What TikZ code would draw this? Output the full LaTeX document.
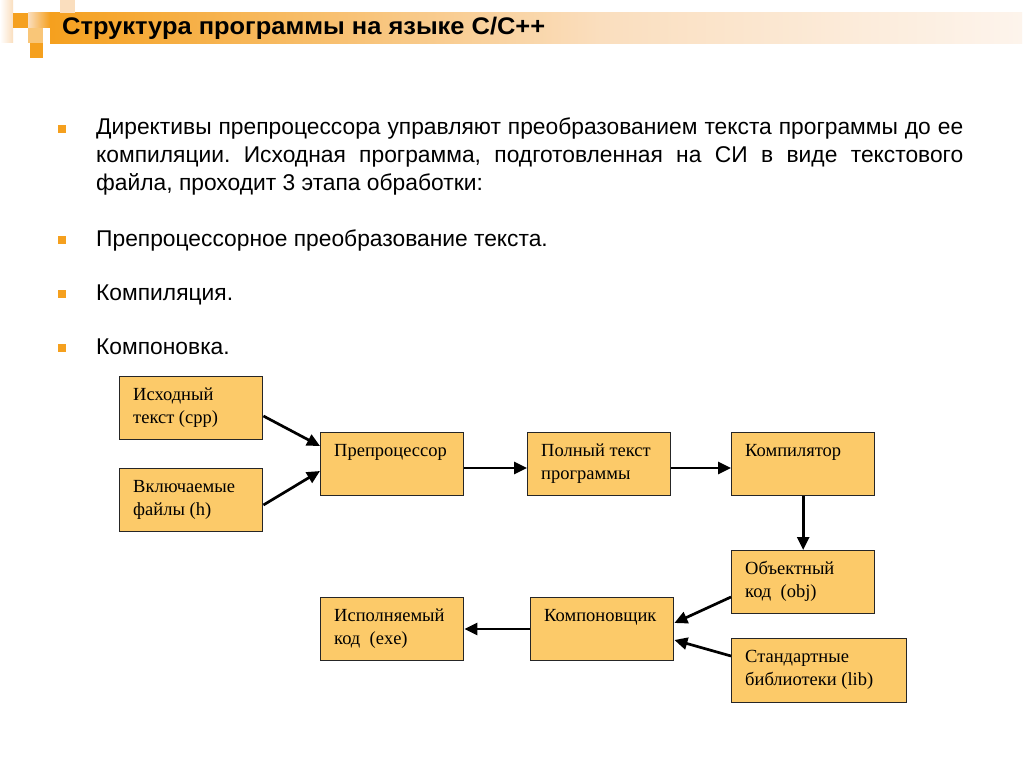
\documentclass[tikz,border=0pt]{standalone}
\usepackage{fontspec}
\setmainfont{Liberation Serif}
\newfontfamily\arialf{Liberation Sans}
\newfontfamily\titlef[FakeStretch=1.06]{Liberation Sans}
\usetikzlibrary{arrows.meta,calc}
\frenchspacing
\definecolor{orng}{RGB}{245,160,30}
\definecolor{peach}{RGB}{250,222,190}
\definecolor{lpeach}{RGB}{253,244,236}
\definecolor{boxfill}{RGB}{252,202,105}
\tikzset{
  box/.style={draw=black!85, fill=boxfill, line width=1.4pt, anchor=north west, inner sep=0pt},
  boxtxt/.style={anchor=base west, inner sep=0pt, font=\fontsize{18.5}{23.5}\selectfont},
  btxt/.style={anchor=base west, inner sep=0pt, font=\arialf\fontsize{22.8}{28}\selectfont},
  bul/.style={fill=orng, draw=none, minimum size=8pt, inner sep=0pt},
  arr/.style={line width=2.7pt, -{Triangle[length=13pt,width=12pt]}},
}
\newcommand{\bx}[6]{%
  \node[box, minimum width=#4, minimum height=#5] (#1) at (#2,#3) {};
  \node[boxtxt] (#1-t) at ($(#1.north west)+(14,24)$) {\vtop{#6}};}
\begin{document}
\begin{tikzpicture}[x=1pt,y=-1pt]
\useasboundingbox[fill=white] (0,0) rectangle (1024,767);
% header decoration
\shade[left color=white, right color=peach] (0,0) rectangle (13,43);
\shade[left color=peach, right color=orng] (28,13) rectangle (50,28);
\shade[left color=orng, right color=peach] (50,13) rectangle (600,44);
\shade[left color=peach, right color=lpeach] (600,13) rectangle (1022,44);
\fill[orng] (13,13) rectangle (28,28);
\fill[orng!60!white] (28,28) rectangle (43,43);
\fill[orng] (30,43) rectangle (43,58);
\fill[peach] (60,0) rectangle (75,13);
\node[anchor=base west, inner sep=0pt, font=\titlef\bfseries\fontsize{24}{30}\selectfont] (title) at (62,35) {Структура программы на языке С/С++};
% bullets
\node[bul] (b1) at (62,129) {};
\node[btxt] (l1a) at (96,135) {\makebox[867pt][s]{Директивы препроцессора управляют преобразованием текста программы до ее}};
\node[btxt] (l1b) at (96,163) {\makebox[867pt][s]{компиляции. Исходная программа, подготовленная на СИ в виде текстового}};
\node[btxt] (l1c) at (96,191) {файла, проходит 3 этапа обработки:};
\node[bul] (b2) at (62,240) {};
\node[btxt] (l2) at (96,246) {Препроцессорное преобразование текста.};
\node[bul] (b3) at (62,294) {};
\node[btxt] (l3) at (96,300) {Компиляция.};
\node[bul] (b4) at (62,348) {};
\node[btxt] (l4) at (96,354) {Компоновка.};
% boxes
\bx{src}{119}{376}{143pt}{63pt}{\hbox{Исходный}\hbox{текст (cpp)}}
\bx{inc}{119}{468}{143pt}{63pt}{\hbox{Включаемые}\hbox{файлы (h)}}
\bx{pre}{320}{432}{143pt}{63pt}{\hbox{Препроцессор}}
\bx{full}{527}{432}{143pt}{63pt}{\hbox{Полный текст}\hbox{программы}}
\bx{comp}{731}{432}{143pt}{63pt}{\hbox{Компилятор}}
\bx{obj}{731}{550}{143pt}{63pt}{\hbox{Объектный}\hbox{код\ \ (obj)}}
\bx{link}{530}{597}{143pt}{63pt}{\hbox{Компоновщик}}
\bx{exe}{320}{597}{143pt}{63pt}{\hbox{Исполняемый}\hbox{код\ \ (exe)}}
\bx{lib}{731}{638}{175pt}{64pt}{\hbox{Стандартные}\hbox{библиотеки (lib)}}
% arrows
\draw[arr] ($(src.north east)+(0,40)$) -- ($(pre.north west)+(0,14)$);
\draw[arr] ($(inc.north east)+(0,37)$) -- ($(pre.north west)+(0,39)$);
\draw[arr] ($(pre.north east)+(0,36)$) -- ($(full.north west)+(0,36)$);
\draw[arr] ($(full.north east)+(0,36)$) -- ($(comp.north west)+(0,36)$);
\draw[arr] (comp.south) -- (obj.north);
\draw[arr] ($(obj.north west)+(0,47)$) -- ($(link.north east)+(0,26)$);
\draw[arr] ($(lib.north west)+(0,18)$) -- ($(link.north east)+(0,43)$);
\draw[arr] ($(link.north west)+(0,32)$) -- ($(exe.north east)+(0,32)$);
\end{tikzpicture}
\end{document}
